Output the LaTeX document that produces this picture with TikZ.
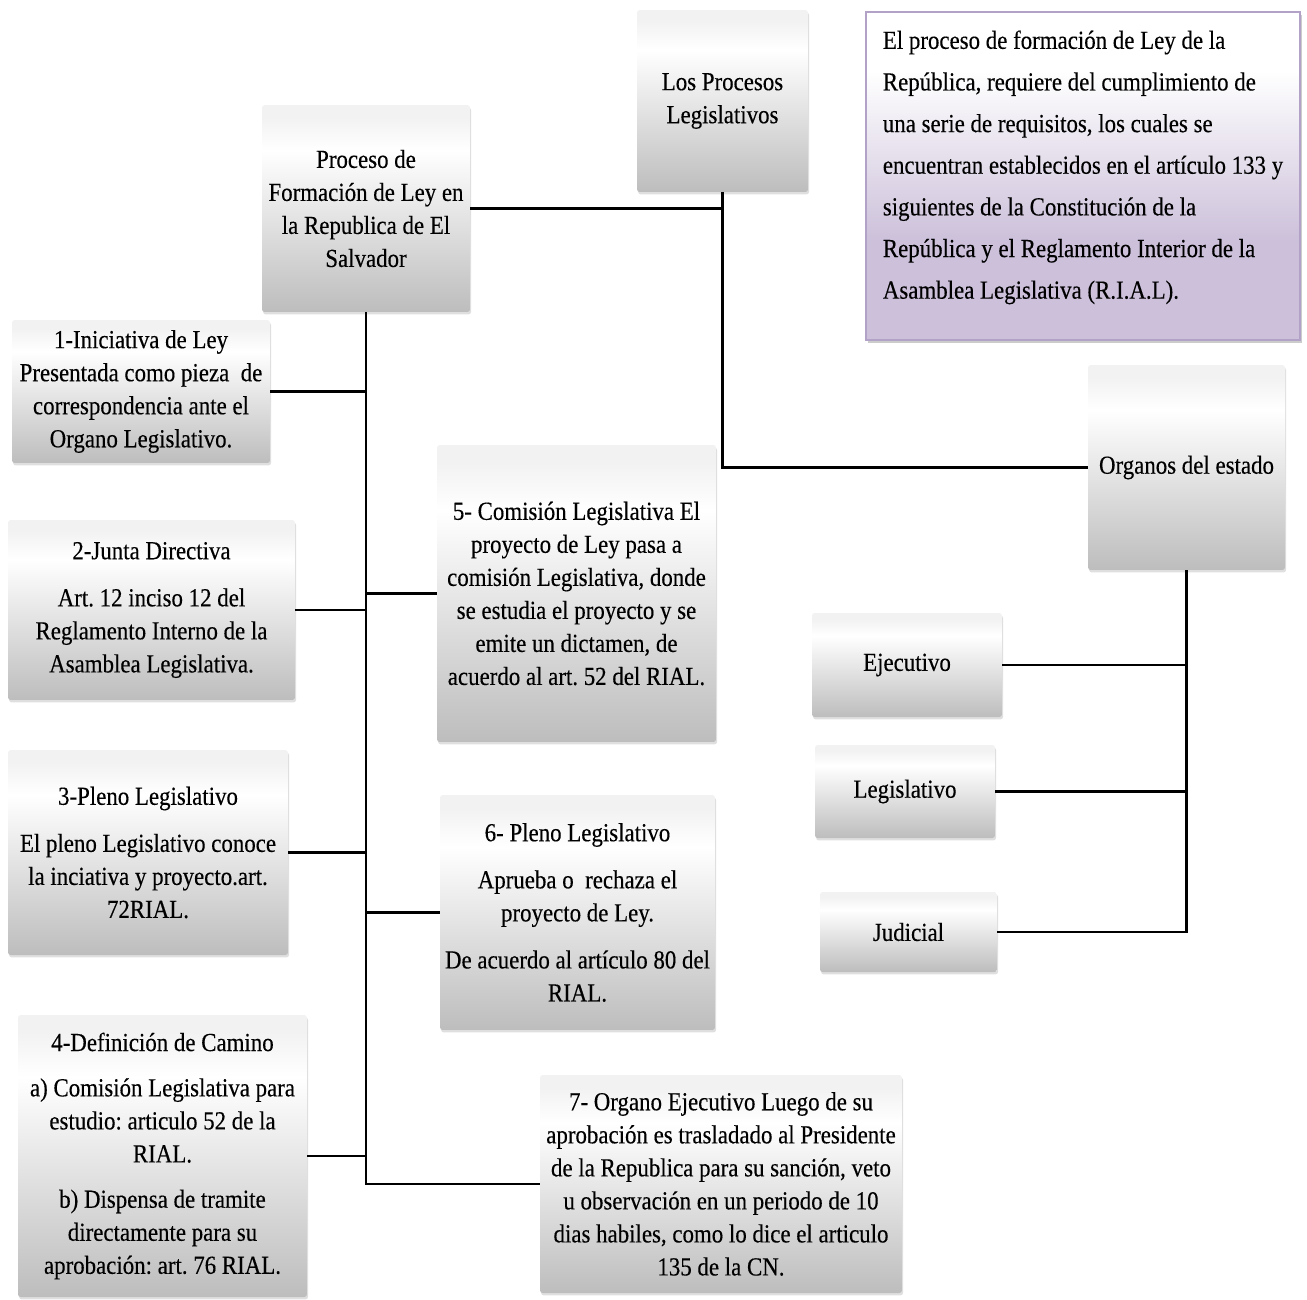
\documentclass[tikz,border=0pt]{standalone}
\usepackage{fontspec}
\setmainfont{Liberation Serif}[FakeStretch=0.88, FakeBold=0.3]
\usepackage{tikz}
\usetikzlibrary{shadows}
\frenchspacing
\definecolor{grisbajo}{HTML}{BDBDBD}
\definecolor{gristope}{HTML}{F2F2F2}
\definecolor{lila}{HTML}{CCC0DA}
\definecolor{lilaborde}{HTML}{B3A2C7}
\pgfdeclareverticalshading{gris}{100bp}{color(0bp)=(grisbajo); color(25bp)=(grisbajo); color(64bp)=(white); color(72bp)=(gristope); color(75bp)=(gristope); color(100bp)=(gristope)}
\pgfdeclareverticalshading{morado}{100bp}{color(0bp)=(lila); color(25bp)=(lila); color(40bp)=(lila); color(66bp)=(white); color(75bp)=(white); color(100bp)=(white)}
\tikzset{
    caja/.style={
        rectangle,
        rounded corners=1.5pt,
        shading=gris,
        drop shadow={shadow xshift=0.6pt, shadow yshift=-1.4pt, opacity=0.25},
        align=center,
        inner sep=2pt,
        font=\fontsize{14.8}{18.8}\selectfont
    },
    nota/.style={
        rectangle,
        shading=morado,
        draw=lilaborde,
        line width=1pt,
        drop shadow={shadow xshift=1pt, shadow yshift=-1.8pt, opacity=0.4},
        align=left,
        inner sep=7pt,
        font=\fontsize{14.8}{23.7}\selectfont
    },
    linea/.style={
        line width=1.3pt,
        draw=black
    }
}

\begin{document}
\begin{tikzpicture}[x=0.02cm, y=-0.02cm]
\useasboundingbox (0,0) rectangle (1307,1299);

% 1. Cabecera
\node[caja, minimum width=4.16cm, minimum height=4.14cm] (proceso) at (366,208.5)
    {Proceso de\\ Formación de Ley en\\ la Republica de El\\ Salvador};
\node[caja, minimum width=3.42cm, minimum height=3.64cm] (procesos) at (722.5,101)
    {Los Procesos\\ Legislativos};
\node[nota, minimum width=8.68cm, minimum height=6.56cm, text depth=13pt] (nota) at (1083,176) {%
    El proceso de formación de Ley de la\\
    República, requiere del cumplimiento de\\
    una serie de requisitos, los cuales se\\
    encuentran establecidos en el artículo 133 y\\
    siguientes de la Constitución de la\\
    República y el Reglamento Interior de la\\
    Asamblea Legislativa (R.I.A.L).};

% 2. Pasos del proceso (izquierda)
\node[caja, minimum width=5.16cm, minimum height=2.86cm] (paso1) at (141,391.5)
    {1-Iniciativa de Ley\\ Presentada como pieza\ \ de\\ correspondencia ante el\\ Organo Legislativo.};
\node[caja, minimum width=5.74cm, minimum height=3.6cm] (paso2) at (151.5,610)
    {2-Junta Directiva\\[8pt] Art. 12 inciso 12 del\\ Reglamento Interno de la\\ Asamblea Legislativa.};
\node[caja, minimum width=5.6cm, minimum height=4.1cm] (paso3) at (148,852.5)
    {3-Pleno Legislativo\\[8pt] El pleno Legislativo conoce\\ la inciativa y proyecto.art.\\ 72RIAL.};
\node[caja, minimum width=5.78cm, minimum height=5.64cm] (paso4) at (162.5,1156)
    {4-Definición de Camino\\[7pt] a) Comisión Legislativa para\\ estudio: articulo 52 de la\\ RIAL.\\[7pt]
     b) Dispensa de tramite\\ directamente para su\\ aprobación: art. 76 RIAL.};

% 3. Pasos del proceso (derecha)
\node[caja, minimum width=5.58cm, minimum height=5.94cm] (paso5) at (576.5,593.5)
    {5- Comisión Legislativa El\\ proyecto de Ley pasa a\\ comisión Legislativa, donde\\ se estudia el proyecto y se\\ emite un dictamen, de\\ acuerdo al art. 52 del RIAL.};
\node[caja, minimum width=5.5cm, minimum height=4.7cm] (paso6) at (577.5,912.5)
    {6- Pleno Legislativo\\[8pt] Aprueba o\ \ rechaza el\\ proyecto de Ley.\\[8pt] De acuerdo al artículo 80 del\\ RIAL.};
\node[caja, minimum width=7.24cm, minimum height=4.36cm] (paso7) at (721,1184)
    {7- Organo Ejecutivo Luego de su\\ aprobación es trasladado al Presidente\\ de la Republica para su sanción, veto\\ u observación en un periodo de 10\\ dias habiles, como lo dice el articulo\\ 135 de la CN.};

% 4. Organos del estado
\node[caja, minimum width=3.94cm, minimum height=4.1cm] (organos) at (1186.5,467.5) {Organos del estado};
\node[caja, minimum width=3.8cm, minimum height=2.08cm] (ejecutivo) at (907,665) {Ejecutivo};
\node[caja, minimum width=3.6cm, minimum height=1.86cm] (legislativo) at (905,791.5) {Legislativo};
\node[caja, minimum width=3.54cm, minimum height=1.6cm] (judicial) at (908.5,932) {Judicial};

% 5. Conexiones
\draw[linea] (proceso.east) -- (proceso.east -| procesos.south);
\draw[linea] (procesos.south) |- (organos.west);
\draw[linea] (proceso.south) |- (paso7.west);
\draw[linea] (paso1.east) -- (paso1.east -| proceso.south);
\draw[linea] (paso2.east) -- (paso2.east -| proceso.south);
\draw[linea] (paso3.east) -- (paso3.east -| proceso.south);
\draw[linea] (paso4.east) -- (paso4.east -| proceso.south);
\draw[linea] (paso5.west) -- (paso5.west -| proceso.south);
\draw[linea] (paso6.west) -- (paso6.west -| proceso.south);
\draw[linea] (organos.south) |- (judicial.east);
\draw[linea] (ejecutivo.east) -- (ejecutivo.east -| organos.south);
\draw[linea] (legislativo.east) -- (legislativo.east -| organos.south);

\end{tikzpicture}
\end{document}
